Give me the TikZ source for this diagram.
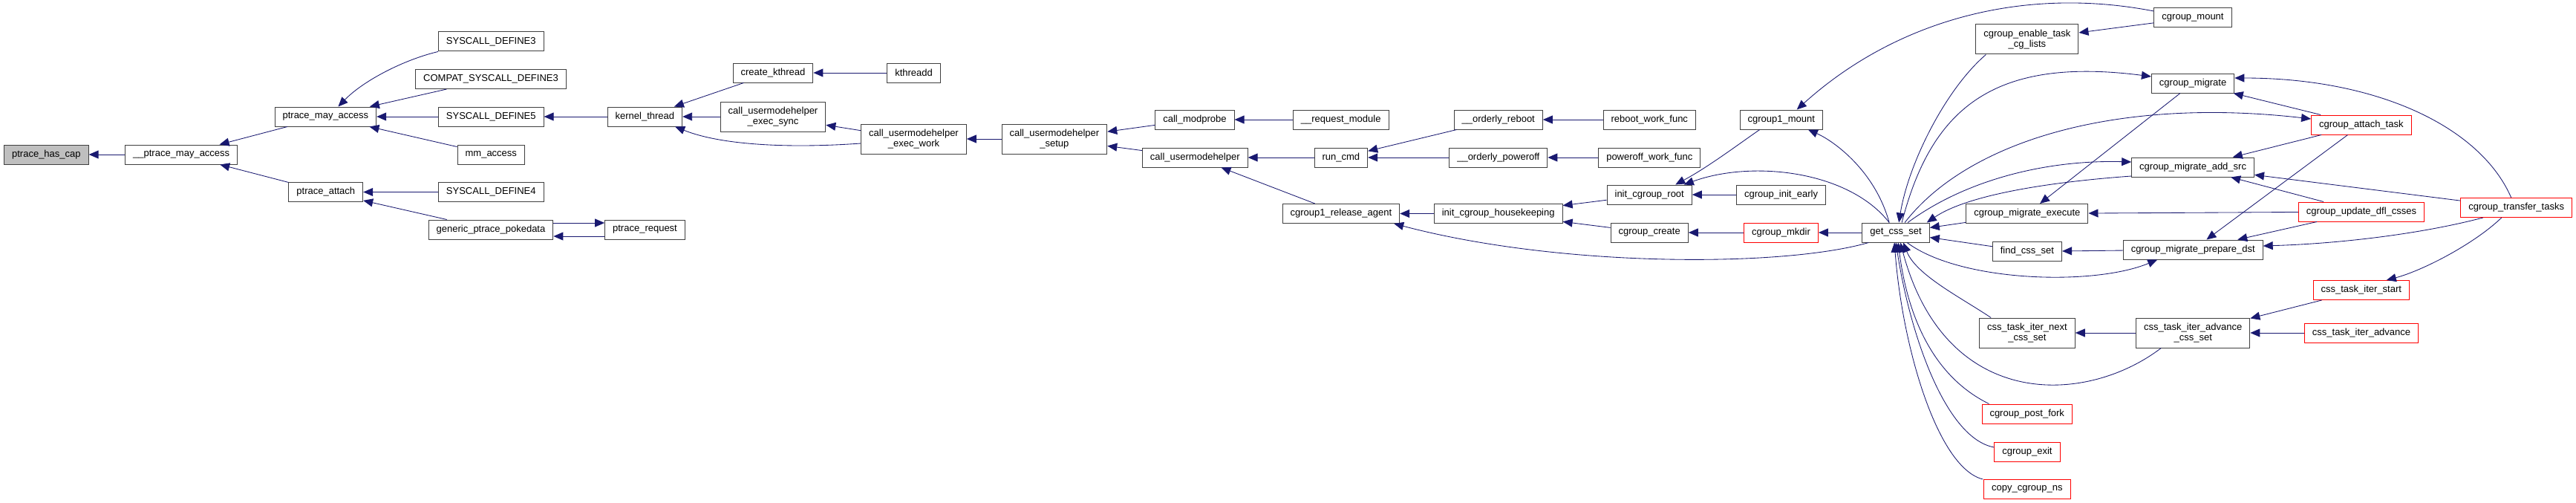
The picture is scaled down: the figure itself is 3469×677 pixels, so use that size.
\documentclass[tikz,border=0pt]{standalone}
\usepackage{fontspec}
\setmainfont{Liberation Sans}
\usepackage{tikz}
\usetikzlibrary{
    arrows.meta
}
\definecolor{edgeBlue}{RGB}{25,25,112}
\definecolor{boxGray}{RGB}{64,64,64}
\tikzset{
  fn/.style     = {draw=boxGray, line width=1pt, fill=white, inner xsep=10.5pt,
                   inner ysep=0pt, minimum height=26pt, align=center,
                   font=\fontsize{13}{14.5}\selectfont},
  fn2/.style    = {fn, minimum height=40pt},
  fnred/.style  = {fn, draw=red},
  fnself/.style = {fn, fill=black!25},
  arr/.style    = {-{Triangle[length=13pt,width=11pt]}, edgeBlue, line width=0.85pt}
}

\begin{document}
\begin{tikzpicture}[x=1pt, y=-1pt]
\useasboundingbox (0,0) rectangle (3469,677);

\node[fnself] (hascap)      at (62.4,208)   {ptrace\_has\_cap};
\node[fn]     (pmaccessint) at (244.2,208)  {\_\_ptrace\_may\_access};
\node[fn]     (pmaccess)    at (438.4,157)  {ptrace\_may\_access};
\node[fn]     (pattach)     at (438.8,258.5){ptrace\_attach};
\node[fn]     (sysdef3)     at (661.3,56)   {SYSCALL\_DEFINE3};
\node[fn]     (compat3)     at (661,106.5)  {COMPAT\_SYSCALL\_DEFINE3};
\node[fn]     (sysdef5)     at (661.3,157)  {SYSCALL\_DEFINE5};
\node[fn]     (mmaccess)    at (661.3,208)  {mm\_access};
\node[fn]     (sysdef4)     at (661.3,258.5){SYSCALL\_DEFINE4};
\node[fn]     (pokedata)    at (661,309)    {generic\_ptrace\_pokedata};
\node[fn]     (preq)        at (868.5,309)  {ptrace\_request};
\node[fn]     (kthread)     at (868.4,157)  {kernel\_thread};
\node[fn]     (createkt)    at (1041,98)    {create\_kthread};
\node[fn2]    (execsync)    at (1041,157)   {call\_usermodehelper\\\_exec\_sync};
\node[fn2]    (execwork)    at (1230.5,187) {call\_usermodehelper\\\_exec\_work};
\node[fn]     (kthreadd)    at (1230.6,98)  {kthreadd};
\node[fn2]    (setup)       at (1419.9,187) {call\_usermodehelper\\\_setup};
\node[fn]     (modprobe)    at (1608.9,161) {call\_modprobe};
\node[fn]     (umh)         at (1609.3,212) {call\_usermodehelper};
\node[fn]     (reqmod)      at (1805.7,161) {\_\_request\_module};
\node[fn]     (runcmd)      at (1805.9,212) {run\_cmd};
\node[fn]     (release)     at (1805.9,287.5){cgroup1\_release\_agent};
\node[fn]     (oreboot)     at (2017.7,161) {\_\_orderly\_reboot};
\node[fn]     (opoweroff)   at (2017.8,212) {\_\_orderly\_poweroff};
\node[fn]     (housekeep)   at (2017.7,287.5){init\_cgroup\_housekeeping};
\node[fn]     (rebootwf)    at (2221.3,161) {reboot\_work\_func};
\node[fn]     (poweroffwf)  at (2221.3,212) {poweroff\_work\_func};
\node[fn]     (initroot)    at (2221.2,262) {init\_cgroup\_root};
\node[fn]     (cgcreate)    at (2221.2,313) {cgroup\_create};
\node[fn]     (c1mount)     at (2398.7,161) {cgroup1\_mount};
\node[fn]     (initearly)   at (2398.5,262) {cgroup\_init\_early};
\node[fnred]  (mkdir)       at (2398.5,313) {cgroup\_mkdir};
\node[fn]     (getcss)      at (2553.1,313) {get\_css\_set};
\node[fn2]    (enabletask)  at (2729.9,53)  {cgroup\_enable\_task\\\_cg\_lists};
\node[fn]     (migexec)     at (2729.9,287.5){cgroup\_migrate\_execute};
\node[fn]     (findcss)     at (2729.9,338.5){find\_css\_set};
\node[fn2]    (nextcss)     at (2729.9,448) {css\_task\_iter\_next\\\_css\_set};
\node[fnred]  (postfork)    at (2729.7,557) {cgroup\_post\_fork};
\node[fnred]  (cgexit)      at (2729.9,608) {cgroup\_exit};
\node[fnred]  (copyns)      at (2729.9,658.5){copy\_cgroup\_ns};
\node[fn]     (cgmount)     at (2953,24)    {cgroup\_mount};
\node[fn]     (migrate)     at (2953.1,112) {cgroup\_migrate};
\node[fn]     (addsrc)      at (2953.1,225) {cgroup\_migrate\_add\_src};
\node[fn]     (prepdst)     at (2953.2,336) {cgroup\_migrate\_prepare\_dst};
\node[fn2]    (advcss)      at (2953.2,448) {css\_task\_iter\_advance\\\_css\_set};
\node[fnred]  (attach)      at (3179.8,168) {cgroup\_attach\_task};
\node[fnred]  (updatedfl)   at (3180,285)   {cgroup\_update\_dfl\_csses};
\node[fnred]  (iterstart)   at (3179.8,390.5){css\_task\_iter\_start};
\node[fnred]  (iteradv)     at (3180,448)   {css\_task\_iter\_advance};
\node[fnred]  (transfer)    at (3388.7,279.5){cgroup\_transfer\_tasks};

\draw[arr] (pmaccessint) -- (hascap);
\draw[arr] (pmaccess) -- (pmaccessint);
\draw[arr] (pattach) -- (pmaccessint);
\draw[arr] (sysdef3.south west) .. controls (545,80) and (490,108) .. ([xshift=17pt]pmaccess.north);
\draw[arr] (compat3) -- (pmaccess);
\draw[arr] (sysdef5) -- (pmaccess);
\draw[arr] (mmaccess) -- (pmaccess);
\draw[arr] (sysdef4) -- (pattach);
\draw[arr] (pokedata) -- (pattach);
\draw[arr] ([yshift=9pt]pokedata.east) -- ([yshift=9pt]preq.west);
\draw[arr] ([yshift=-9pt]preq.west) -- ([yshift=-9pt]pokedata.east);
\draw[arr] (kthread) -- (sysdef5);
\draw[arr] (createkt) -- (kthread);
\draw[arr] (execsync) -- (kthread);
\draw[arr] ([yshift=-6pt]execwork.west) .. controls (1060,200) and (970,195) .. ([xshift=-10pt]kthread.south east);
\draw[arr] (kthreadd) -- (createkt);
\draw[arr] (execwork) -- (execsync);
\draw[arr] (setup) -- (execwork);
\draw[arr] (modprobe) -- (setup);
\draw[arr] (umh) -- (setup);
\draw[arr] (reqmod) -- (modprobe);
\draw[arr] (runcmd) -- (umh);
\draw[arr] (release) -- (umh);
\draw[arr] (oreboot) -- (runcmd);
\draw[arr] (opoweroff) -- (runcmd);
\draw[arr] (rebootwf) -- (oreboot);
\draw[arr] (poweroffwf) -- (opoweroff);
\draw[arr] (housekeep) -- (release);
\draw[arr] ([xshift=9pt]getcss.south west) .. controls (2400,360) and (2100,360) .. ([xshift=-8pt]release.south east);
\draw[arr] (initroot) -- (housekeep);
\draw[arr] (cgcreate) -- (housekeep);
\draw[arr] (mkdir) -- (cgcreate);
\draw[arr] ([xshift=-29pt]c1mount.south) .. controls (2340,195) and (2300,225) .. ([xshift=35pt]initroot.north);
\draw[arr] ([xshift=-9pt]getcss.north) .. controls (2490,230) and (2360,215) .. ([xshift=-11pt]initroot.north east);
\draw[arr] (initearly) -- (initroot);
\draw[arr] (getcss) -- (mkdir);
\draw[arr] ([xshift=-9pt]getcss.north) .. controls (2525,230) and (2470,190) .. ([xshift=-20pt]c1mount.south east);
\draw[arr] ([yshift=9pt]cgmount.west) .. controls (2720,-20) and (2550,30) .. ([xshift=21pt]c1mount.north);
\draw[arr] (cgmount) -- (enabletask);
\draw[arr] ([xshift=14pt]enabletask.south west) .. controls (2620,120) and (2570,220) .. ([xshift=4pt]getcss.north);
\draw[arr] ([xshift=8pt]getcss.north) .. controls (2600,150) and (2680,75) .. ([yshift=9pt]migrate.west);
\draw[arr] ([xshift=12pt]getcss.north) .. controls (2650,190) and (2850,130) .. ([yshift=8pt]attach.west);
\draw[arr] (migrate) -- (migexec);
\draw[arr] ([xshift=16pt]getcss.north) .. controls (2650,240) and (2760,215) .. ([yshift=7pt]addsrc.west);
\draw[arr] ([yshift=-12pt]addsrc.west) .. controls (2760,245) and (2650,262) .. ([xshift=-4pt]getcss.north east);
\draw[arr] (migexec) -- (getcss);
\draw[arr] (findcss) -- (getcss);
\draw[arr] (prepdst) -- (findcss);
\draw[arr] ([xshift=15pt]getcss.south) .. controls (2640,380) and (2820,385) .. ([xshift=-48pt]prepdst.south);
\draw[arr] ([xshift=16pt]nextcss.north west) .. controls (2640,400) and (2580,370) .. ([xshift=10pt]getcss.south);
\draw[arr] (advcss) -- (nextcss);
\draw[arr] ([xshift=-43pt]advcss.south) .. controls (2810,545) and (2620,555) .. ([xshift=6pt]getcss.south);
\draw[arr] ([xshift=10pt]postfork.north west) .. controls (2600,505) and (2568,420) .. ([xshift=3pt]getcss.south);
\draw[arr] ([yshift=6pt]cgexit.west) .. controls (2620,590) and (2572,450) .. (getcss.south);
\draw[arr] ([xshift=-1pt]copyns.north west) .. controls (2610,630) and (2562,470) .. ([xshift=-2pt]getcss.south);
\draw[arr] (updatedfl) -- (migexec);
\draw[arr] ([xshift=-7pt]transfer.north) .. controls (3340,170) and (3200,105) .. ([yshift=7pt]migrate.east);
\draw[arr] (attach) -- (migrate);
\draw[arr] (attach) -- (addsrc);
\draw[arr] (attach) -- (prepdst);
\draw[arr] (transfer) -- (addsrc);
\draw[arr] (updatedfl) -- (addsrc);
\draw[arr] (updatedfl) -- (prepdst);
\draw[arr] ([xshift=-45pt]transfer.south) .. controls (3260,315) and (3150,328) .. ([yshift=5pt]prepdst.east);
\draw[arr] ([xshift=-20pt]transfer.south) .. controls (3330,330) and (3260,365) .. ([xshift=34pt]iterstart.north);
\draw[arr] (iterstart) -- (advcss);
\draw[arr] (iteradv) -- (advcss);
\end{tikzpicture}
\end{document}
